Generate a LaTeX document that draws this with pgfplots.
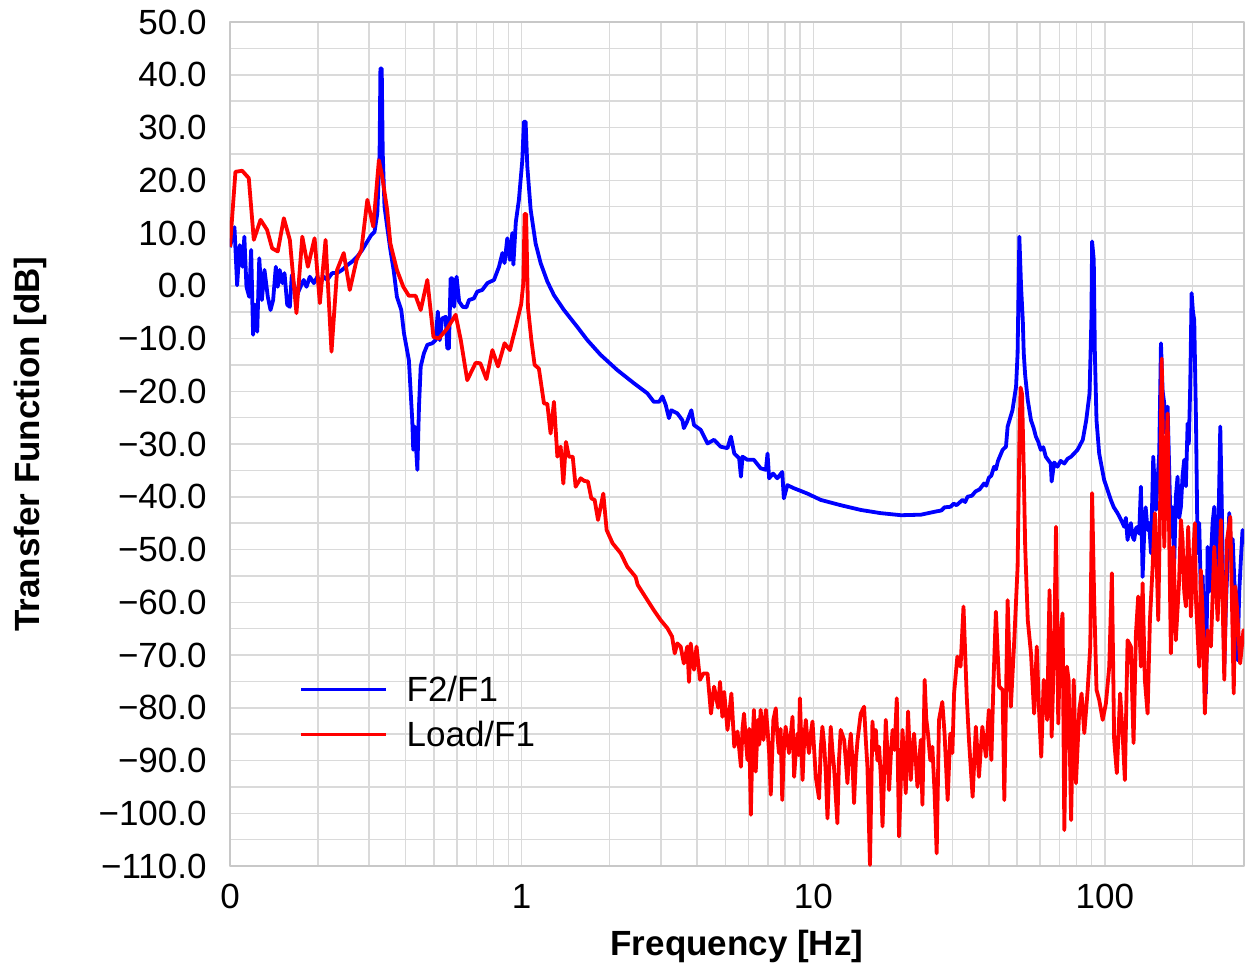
\documentclass[border=0pt]{standalone}
\usepackage{fontspec}
\setmainfont{Liberation Sans}
\usepackage{pgfplots}
\pgfplotsset{compat=1.18}
\definecolor{gridc}{RGB}{218,218,218}
\definecolor{framec}{RGB}{200,200,200}
\begin{document}
\fontsize{17.5}{21}\selectfont
\begin{tikzpicture}
\begin{axis}[
  name=ax,
  scale only axis,
  width=507pt, height=422pt,
  xmode=log,
  xmin=0.1, xmax=300,
  ymin=-110, ymax=50,
  xtick={0.1,1,10,100},
  xticklabels={0,1,10,100},
  minor xtick={0.2,0.3,0.4,0.5,0.6,0.7,0.8,0.9,2,3,4,5,6,7,8,9,20,30,40,50,60,70,80,90,200,300},
  ytick={-110,-100,...,50},
  yticklabels={{−110.0},{−100.0},{−90.0},{−80.0},{−70.0},{−60.0},{−50.0},{−40.0},{−30.0},{−20.0},{−10.0},{0.0},{10.0},{20.0},{30.0},{40.0},{50.0}},
  minor ytick={-105,-95,...,45},
  grid=both,
  major grid style={draw=gridc, line width=0.75pt},
  minor grid style={draw=gridc, line width=0.75pt},
  axis line style={draw=framec, line width=0.9pt},
  major tick length=0pt, minor tick length=0pt,
  yticklabel style={inner sep=0pt, anchor=east, xshift=-11.5pt},
  xticklabel style={inner sep=0pt, anchor=north, yshift=-9pt},
  xlabel={\bfseries Frequency [Hz]},
  xlabel style={at={(axis description cs:0.5,-0.1055)}, anchor=base, inner sep=0pt},
  ylabel={\bfseries Transfer Function [dB]},
  ylabel style={at={(axis description cs:-0.1874,0.5)}, anchor=base, inner sep=0pt},
  legend style={at={(axis description cs:0.0681,0.2364)}, anchor=north west, draw=none, fill=none, inner sep=0pt, row sep=0pt, column sep=4.5pt,
    nodes={inner sep=5pt, text height=12.5pt, text depth=0pt}},
  legend cell align=left,
  legend image code/.code={\draw[#1, line width=1.6pt] (0pt,0pt) -- (42.5pt,0pt);},
  line join=round,
]
\addplot[color={rgb,255:red,0;green,0;blue,255}, line width=1.9pt] coordinates {
(0.1,7.3) (0.1036,11.1) (0.1058,0.1) (0.108,7.7) (0.1104,3.6) (0.112,9.3) (0.1139,-0.2) (0.1164,-2.1)
(0.1182,6.8) (0.120,-9.3) (0.122,-3.6) (0.124,-8.7) (0.126,5.2) (0.1286,-2.7) (0.1313,3.0) (0.1348,-2.1)
(0.1377,-4.6) (0.1406,-2.7) (0.1436,3.6) (0.1458,-0.2) (0.148,3.0) (0.1513,0.5) (0.1538,2.4) (0.1571,-3.6)
(0.1604,-4.0) (0.1629,2.0) (0.1664,-0.2) (0.1708,-1.4) (0.1745,-0.2) (0.179,1.1) (0.183,-0.2) (0.1878,1.7)
(0.194,0.5) (0.1993,1.7) (0.2043,0.5) (0.2099,1.7) (0.2155,1.1) (0.224,2.4) (0.233,2.4) (0.2425,3.0)
(0.2524,3.9) (0.2627,4.6) (0.273,5.5) (0.2842,6.8) (0.2958,8.4) (0.305,9.6) (0.313,10.2) (0.320,13.7)
(0.3258,25.1) (0.328,41.2) (0.3314,41.2) (0.334,25.2) (0.3387,15.0) (0.3459,11.2) (0.3548,6.8) (0.364,3.0)
(0.3736,-2.1) (0.3867,-4.6) (0.395,-9.0) (0.4106,-14.1) (0.4217,-25.5) (0.425,-31.1) (0.4305,-26.7) (0.439,-34.9)
(0.4447,-22.9) (0.4508,-15.3) (0.4624,-12.8) (0.475,-11.2) (0.494,-10.9) (0.5071,-10.3) (0.516,-4.9) (0.524,-10.3)
(0.534,-6.2) (0.549,-5.9) (0.556,-11.9) (0.563,-11.9) (0.571,1.4) (0.579,1.4) (0.587,-4.0) (0.5985,1.7)
(0.6106,-3.0) (0.6285,-4.0) (0.6465,-4.1) (0.660,-2.7) (0.686,-2.4) (0.705,-1.1) (0.733,-0.8) (0.7632,0.5)
(0.783,0.8) (0.804,1.1) (0.8365,3.6) (0.8591,6.2) (0.874,4.3) (0.893,9.0) (0.9115,4.9) (0.929,10.0)
(0.937,4.0) (0.955,12.0) (0.9788,16.3) (1.0055,23.8) (1.018,31.1) (1.032,31.1) (1.046,22.6) (1.074,14.4)
(1.117,8.0) (1.162,4.3) (1.225,0.8) (1.291,-1.8) (1.397,-4.6) (1.552,-7.8) (1.68,-10.3) (1.866,-13.1)
(2.13,-16.0) (2.43,-18.5) (2.70,-20.4) (2.84,-22.0) (2.96,-22.0) (3.04,-21.0) (3.12,-22.6) (3.20,-25.1)
(3.26,-23.6) (3.42,-24.2) (3.56,-25.5) (3.60,-27.0) (3.69,-25.8) (3.82,-23.6) (3.90,-26.4) (4.11,-27.3)
(4.34,-29.9) (4.57,-29.2) (4.81,-30.5) (5.08,-30.8) (5.22,-28.6) (5.36,-31.8) (5.57,-32.7) (5.65,-36.2)
(5.72,-32.4) (5.95,-33.0) (6.26,-33.0) (6.60,-34.6) (6.88,-34.9) (6.97,-31.8) (7.06,-36.5) (7.28,-35.6)
(7.53,-36.5) (7.83,-35.3) (7.93,-40.3) (8.15,-37.8) (8.6,-38.4) (9.55,-39.4) (10.61,-40.6) (12.42,-41.6)
(14.55,-42.5) (17.0,-43.1) (20.0,-43.5) (23.4,-43.4) (26.3,-42.8) (27.5,-42.6) (28.2,-42.0) (29.6,-41.9)
(30.3,-41.3) (31.0,-41.6) (32.5,-40.6) (33.2,-41.0) (33.8,-40.0) (35.0,-39.8) (36.0,-39.0) (37.2,-38.6)
(38.5,-37.5) (39.2,-37.9) (40.0,-36.4) (40.8,-36.0) (41.7,-34.3) (42.3,-34.8) (43.0,-33.2) (44.6,-31.1) (45.8,-30.5)
(46.4,-26.7) (48.2,-23.6) (49.6,-19.1) (50.2,-12.8) (50.9,9.3) (51.6,-0.2) (52.3,-6.5) (52.7,-12.8)
(53.3,-17.0) (54.4,-21.7) (55.8,-25.5) (57.0,-27.0) (58.0,-28.6) (59.0,-29.5) (60.3,-31.1) (61.5,-30.6) (62.7,-32.4) (65.2,-33.7) (65.7,-37.1)
(67.0,-33.5) (68.8,-34.3) (70.5,-33.2) (72.6,-33.7) (74.5,-32.8) (76.6,-32.4) (80.6,-31.1) (84.0,-29.2) (86.3,-25.5) (88.6,-20.4)
(89.9,-6.5) (90.4,8.4) (91.6,4.9) (92.4,-12.8) (93.6,-25.5) (95.6,-31.8) (99.4,-36.8) (104.8,-40.6)
(107.3,-42.0) (110.5,-43.1) (113.9,-44.5) (116.5,-45.7) (118,-44.0) (119.6,-48.2) (121,-46.0) (122.8,-45.0)
(124.3,-47.5) (126,-48.2) (127.8,-46.0) (129.5,-45.7) (131.1,-47.0) (132.9,-38.1) (134.7,-55.2) (136.5,-46.5)
(138,-42.0) (140.1,-46.3) (141.9,-45.0) (143.9,-50.7) (146.5,-32.4) (149.6,-42.5) (153.6,-31.8) (155.7,-10.9)
(157.8,-20.0) (159.8,-22.3) (162,-28.0) (164.1,-22.9) (166.2,-35.0) (168.4,-47.6) (170.6,-42.0) (172.9,-52.7)
(175.1,-40.0) (177.5,-36.2) (179.8,-44.0) (182.3,-41.9) (184.7,-36.0) (187.1,-33.0) (189.6,-38.0) (192.2,-26.1)
(194,-30.0) (196.2,-19.1) (198.4,-1.4) (200.5,-5.0) (202.5,-6.5) (205.3,-25.5) (208,-50.7) (210.6,-45.0)
(213.3,-58.0) (216.3,-55.0) (219.2,-65.0) (222.2,-77.3) (225.1,-49.5) (228,-58.0) (231,-52.0) (234,-45.0)
(237.2,-41.9) (240.4,-50.0) (243.6,-55.8) (246.2,-40.0) (248.7,-26.7) (251.4,-40.0) (254,-55.0) (256.7,-72.2)
(260.2,-60.0) (263.7,-52.0) (267,-43.1) (270.6,-50.0) (274.3,-48.0) (277.9,-56.0) (281.6,-60.0) (285,-71.0)
(288.9,-58.0) (292.6,-52.0) (296.5,-46.3) (300,-49.0)
};
\addlegendentry{F2/F1}
\addplot[color={rgb,255:red,255;green,0;blue,0}, line width=1.9pt] coordinates {
(0.1,7.4) (0.1044,21.6) (0.1101,21.8) (0.116,20.4) (0.1207,8.7) (0.1273,12.5) (0.134,10.6) (0.1395,7.1)
(0.1458,6.5) (0.153,12.8) (0.1604,8.7) (0.169,-5.2) (0.177,9.3) (0.185,3.6) (0.195,9.0) (0.2033,-3.3)
(0.2127,8.7) (0.2229,-12.5) (0.233,3.0) (0.2455,6.2) (0.2575,-0.8) (0.2717,4.9) (0.2822,6.8) (0.2958,16.3)
(0.31,11.2) (0.324,23.8) (0.3326,20.7) (0.3459,14.4) (0.3548,8.0) (0.3736,3.0) (0.393,-0.2) (0.4106,-1.9)
(0.433,-1.9) (0.4508,-4.6) (0.475,1.1) (0.4985,-9.7) (0.52,-10.0) (0.556,-8.1) (0.594,-5.5) (0.6186,-10.3)
(0.651,-17.9) (0.696,-14.6) (0.722,-14.7) (0.7576,-17.7) (0.794,-12.2) (0.830,-15.3) (0.874,-10.9) (0.9115,-12.2)
(0.955,-7.8) (0.9964,-3.5) (1.0135,0.5) (1.024,13.6) (1.036,13.6) (1.051,-4.0) (1.08,-10.3) (1.108,-15.0)
(1.146,-15.7) (1.193,-22.3) (1.225,-22.4) (1.257,-28.0) (1.291,-22.0) (1.326,-32.4) (1.361,-30.5) (1.39,-37.5)
(1.419,-29.6) (1.453,-32.4) (1.497,-32.4) (1.532,-38.1) (1.594,-36.5) (1.64,-37.0) (1.688,-37.1) (1.734,-40.3)
(1.78,-40.6) (1.828,-44.4) (1.906,-39.4) (1.957,-46.3) (2.05,-48.8) (2.186,-50.7) (2.305,-53.3) (2.46,-55.2)
(2.50,-56.7) (2.70,-59.6) (2.84,-61.5) (3.00,-63.4) (3.16,-64.9) (3.28,-66.5) (3.35,-69.7) (3.42,-67.8)
(3.51,-68.4) (3.60,-71.6) (3.70,-68.4) (3.75,-75.1) (3.80,-67.8) (3.90,-72.8) (3.98,-68.4) (4.09,-74.7)
(4.20,-73.5) (4.34,-73.5) (4.46,-81.1) (4.57,-76.0) (4.72,-80.0) (4.79,-75.1) (4.88,-81.7) (4.95,-77.0)
(5.08,-84.2) (5.24,-77.3) (5.36,-87.4) (5.50,-84.5) (5.65,-91.2) (5.72,-84) (5.79,-81.1) (5.87,-86)
(5.95,-89.9) (6.03,-84) (6.11,-100.3) (6.18,-88) (6.26,-80.4) (6.35,-92.1) (6.46,-82.3) (6.53,-87)
(6.60,-80.4) (6.75,-86.1) (6.88,-80.4) (6.97,-84) (7.06,-88.6) (7.15,-96.5) (7.30,-82.3) (7.44,-80.1)
(7.53,-85) (7.63,-88.6) (7.73,-84) (7.83,-97.5) (7.93,-88) (8.04,-83.6) (8.15,-86) (8.26,-88.6)
(8.38,-85) (8.49,-81.7) (8.6,-93.1) (8.72,-88) (8.83,-84.9) (8.92,-89) (9.0,-78.2) (9.19,-93.7)
(9.31,-86) (9.43,-82.3) (9.55,-86) (9.67,-88.6) (9.80,-85) (9.94,-82.6) (10.2,-93.1) (10.47,-97.2)
(10.6,-88) (10.75,-83.6) (10.9,-87) (11.04,-92.4) (11.19,-101.0) (11.48,-83.6) (11.63,-88) (11.78,-91.2)
(12.1,-101.9) (12.25,-90) (12.42,-84.2) (12.76,-86.1) (12.93,-90) (13.1,-94.3) (13.28,-88) (13.45,-84.9)
(13.6,-89) (13.8,-98.1) (14.0,-90) (14.19,-86.1) (14.55,-81.1) (14.94,-79.8) (15.14,-86) (15.34,-91.2)
(15.65,-109.8) (15.96,-82.6) (16.18,-88) (16.39,-84.2) (16.6,-90) (16.82,-87.4) (17.05,-93) (17.28,-102.5)
(17.73,-82.3) (17.95,-88) (18.2,-95.6) (18.45,-89) (18.71,-84.2) (19.0,-88) (19.34,-78.2) (19.69,-104.4)
(20.23,-84.2) (20.5,-90) (20.76,-96.2) (21.14,-80.7) (21.6,-93.7) (21.9,-88) (22.17,-84.9) (22.77,-95.0)
(23.37,-86.1) (23.68,-98.4) (24.1,-74.7) (24.4,-82) (24.74,-84.9) (25.2,-90) (25.61,-87.4) (26.07,-96.2)
(26.5,-107.6) (26.99,-82.3) (27.7,-78.9) (28.2,-84.9) (28.9,-97.5) (29.5,-84.9) (30.0,-88.6) (30.4,-77.3)
(31.2,-70.3) (32.0,-72.2) (32.75,-60.8) (33.6,-77.9) (34.2,-86.1) (35.2,-96.9) (36.1,-83.6) (37.0,-93.1)
(38.0,-83.6) (39.1,-89.3) (40.0,-80.4) (40.8,-89.9) (41.5,-75) (42.3,-61.8) (43.4,-76.0) (44.6,-76.6)
(45.2,-97.5) (46.4,-59.6) (47.6,-79.8) (48.9,-67.2) (50.2,-53.3) (50.9,-30) (51.4,-19.3) (52.0,-20.5)
(52.7,-35) (53.3,-49.5) (54.4,-63.4) (55.8,-69.7) (57.2,-81.1) (58.4,-68.4) (59.4,-79.8) (60.5,-89.3)
(61.7,-74.7) (63.4,-82.3) (64.6,-57.7) (65.7,-85.5) (67.0,-68.4) (68.0,-45.7) (69.2,-83.0) (70.3,-67.2)
(71.6,-62.1) (72.6,-103.2) (74.1,-72.2) (75.1,-74.7) (76.6,-101.3) (78.2,-74.7) (79.6,-94.3) (81.7,-80.4)
(83.2,-77.3) (85.0,-84.8) (87.3,-76.6) (89.1,-68.4) (90.4,-39.3) (91.9,-59.6) (93.6,-76.6) (95.6,-78.5)
(98.3,-82.3) (100.8,-79.2) (103.5,-72.2) (105.7,-54.5) (107.6,-86.1) (109.9,-92.4) (112.8,-77.3) (115.0,-84.8)
(117.1,-93.7) (119.6,-67.2) (122.8,-68.4) (125.4,-86.7) (127.8,-65.9) (130.1,-58.9) (132.9,-72.2) (134.7,-56.4)
(137.1,-74.7) (140.1,-81.1) (142.7,-63.4) (145.8,-53.2) (148.4,-43.1) (150.5,-52) (152.4,-63.4) (154.8,-40)
(156.6,-13.8) (158.2,-30) (159.8,-49.5) (162,-35) (164.1,-24.2) (166.2,-47.6) (168.4,-69.7) (172.0,-49.5)
(175.1,-67.2) (179.8,-55.8) (182.3,-44.4) (184.7,-48.2) (187.1,-58) (189.6,-60.8) (193.1,-45.7) (197.3,-62.7)
(201.6,-49.5) (203.5,-45.0) (205.3,-59.6) (210.6,-72.2) (213.3,-53.9) (216.3,-62.1) (220.2,-81.1) (225.1,-65.3)
(231.0,-68.4) (237.2,-49.5) (243.6,-63.4) (250,-44.4) (256.7,-74.7) (262.3,-48.2) (269.2,-43.8) (276.6,-77.3)
(280,-57.0) (283.6,-60.8) (291.0,-71.6) (298.7,-65.3) (300,-67)
};
\addlegendentry{Load/F1}
\end{axis}
\pgfresetboundingbox
\path[use as bounding box] (-115pt,-50pt) rectangle (508pt,433pt);
\end{tikzpicture}
\end{document}
